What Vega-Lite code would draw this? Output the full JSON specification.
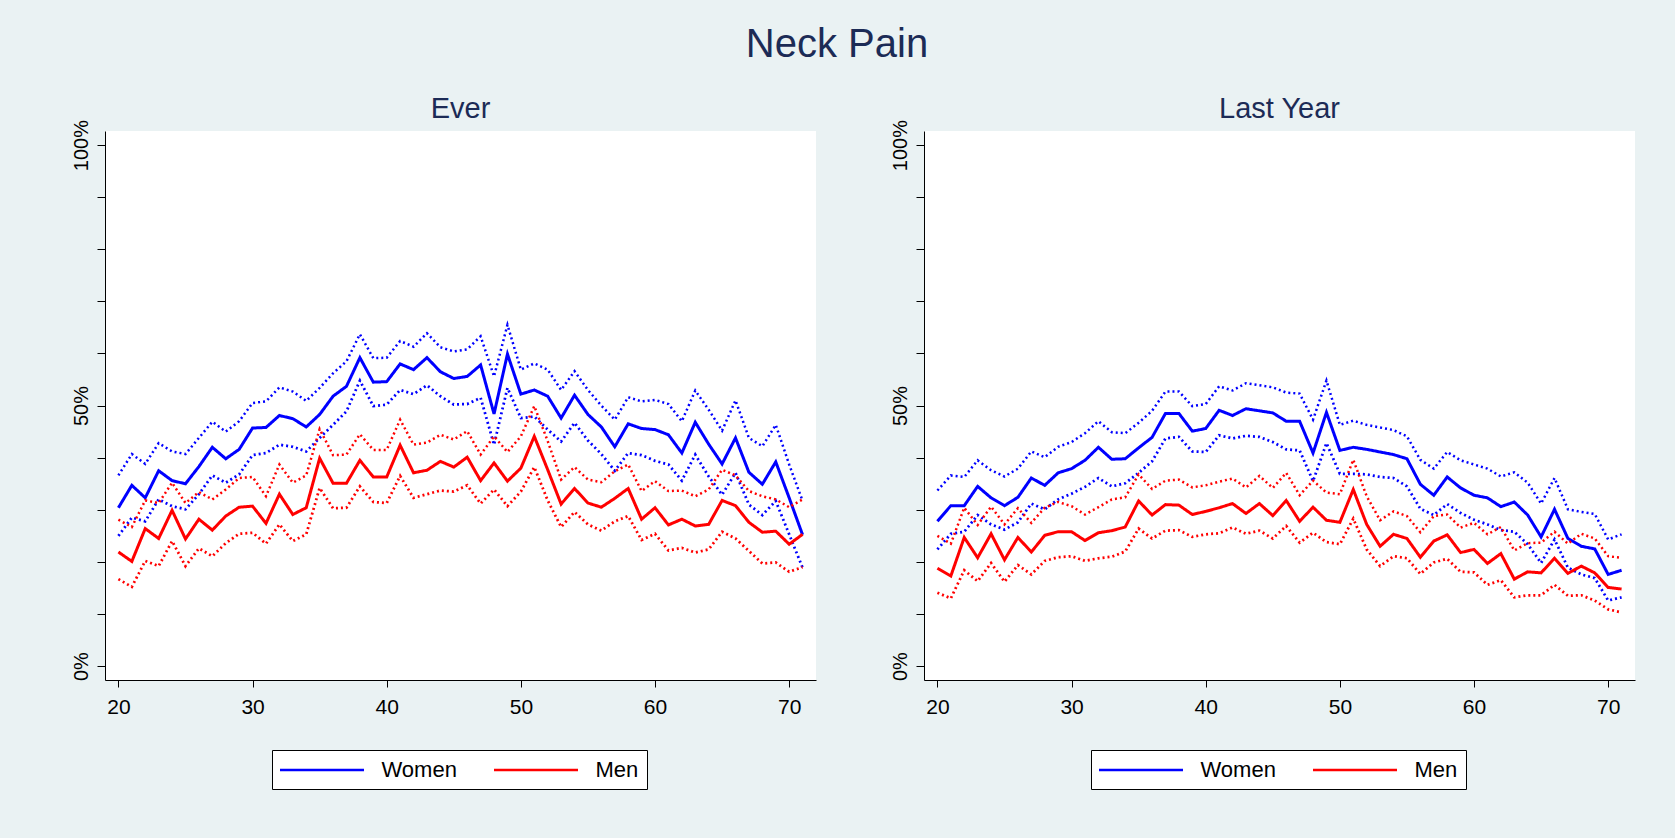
{
  "$schema": "https://vega.github.io/schema/vega-lite/v6.json",
  "background": "#eaf2f3",
  "padding": {"left": 70, "top": 25, "right": 40, "bottom": 49},
  "title": {"text": "Neck Pain", "fontSize": 40, "font": "Liberation Sans", "fontWeight": "normal", "color": "#1c2b56", "anchor": "middle", "offset": 30, "dx": -16},
  "datasets": {
    "ever": [
      {"age":20,"sex":"Women","est":30.4,"lo":25.0,"hi":36.6},
      {"age":21,"sex":"Women","est":34.7,"lo":28.5,"hi":40.7},
      {"age":22,"sex":"Women","est":32.3,"lo":27.8,"hi":38.8},
      {"age":23,"sex":"Women","est":37.5,"lo":32.0,"hi":42.8},
      {"age":24,"sex":"Women","est":35.6,"lo":30.7,"hi":41.2},
      {"age":25,"sex":"Women","est":35.0,"lo":30.1,"hi":40.7},
      {"age":26,"sex":"Women","est":38.3,"lo":33.0,"hi":43.8},
      {"age":27,"sex":"Women","est":42.0,"lo":36.6,"hi":46.9},
      {"age":28,"sex":"Women","est":39.8,"lo":35.2,"hi":45.0},
      {"age":29,"sex":"Women","est":41.6,"lo":36.8,"hi":47.0},
      {"age":30,"sex":"Women","est":45.7,"lo":40.5,"hi":50.5},
      {"age":31,"sex":"Women","est":45.8,"lo":40.9,"hi":50.8},
      {"age":32,"sex":"Women","est":48.1,"lo":42.5,"hi":53.5},
      {"age":33,"sex":"Women","est":47.5,"lo":42.1,"hi":52.7},
      {"age":34,"sex":"Women","est":45.9,"lo":41.2,"hi":50.9},
      {"age":35,"sex":"Women","est":48.3,"lo":43.8,"hi":53.4},
      {"age":36,"sex":"Women","est":51.8,"lo":46.3,"hi":56.2},
      {"age":37,"sex":"Women","est":53.7,"lo":48.9,"hi":58.5},
      {"age":38,"sex":"Women","est":59.2,"lo":54.8,"hi":63.7},
      {"age":39,"sex":"Women","est":54.5,"lo":49.9,"hi":59.1},
      {"age":40,"sex":"Women","est":54.6,"lo":50.2,"hi":59.2},
      {"age":41,"sex":"Women","est":58.0,"lo":53.0,"hi":62.4},
      {"age":42,"sex":"Women","est":56.9,"lo":52.2,"hi":61.3},
      {"age":43,"sex":"Women","est":59.2,"lo":53.9,"hi":63.9},
      {"age":44,"sex":"Women","est":56.5,"lo":51.8,"hi":61.2},
      {"age":45,"sex":"Women","est":55.2,"lo":50.2,"hi":60.4},
      {"age":46,"sex":"Women","est":55.6,"lo":50.3,"hi":60.8},
      {"age":47,"sex":"Women","est":57.8,"lo":51.5,"hi":63.3},
      {"age":48,"sex":"Women","est":48.4,"lo":42.5,"hi":55.6},
      {"age":49,"sex":"Women","est":59.9,"lo":53.4,"hi":65.5},
      {"age":50,"sex":"Women","est":52.2,"lo":47.6,"hi":56.9},
      {"age":51,"sex":"Women","est":53.0,"lo":47.9,"hi":58.1},
      {"age":52,"sex":"Women","est":51.8,"lo":45.4,"hi":56.9},
      {"age":53,"sex":"Women","est":47.6,"lo":43.1,"hi":53.0},
      {"age":54,"sex":"Women","est":52.0,"lo":46.7,"hi":56.6},
      {"age":55,"sex":"Women","est":48.3,"lo":43.3,"hi":53.0},
      {"age":56,"sex":"Women","est":45.9,"lo":40.7,"hi":50.0},
      {"age":57,"sex":"Women","est":42.1,"lo":37.5,"hi":47.3},
      {"age":58,"sex":"Women","est":46.5,"lo":40.9,"hi":51.6},
      {"age":59,"sex":"Women","est":45.6,"lo":40.5,"hi":50.8},
      {"age":60,"sex":"Women","est":45.4,"lo":39.4,"hi":51.1},
      {"age":61,"sex":"Women","est":44.4,"lo":38.7,"hi":50.3},
      {"age":62,"sex":"Women","est":40.9,"lo":35.6,"hi":47.0},
      {"age":63,"sex":"Women","est":46.8,"lo":40.6,"hi":52.9},
      {"age":64,"sex":"Women","est":42.6,"lo":36.4,"hi":49.2},
      {"age":65,"sex":"Women","est":38.8,"lo":32.9,"hi":45.2},
      {"age":66,"sex":"Women","est":43.8,"lo":37.1,"hi":51.0},
      {"age":67,"sex":"Women","est":37.2,"lo":31.0,"hi":43.8},
      {"age":68,"sex":"Women","est":34.9,"lo":29.0,"hi":42.2},
      {"age":69,"sex":"Women","est":39.2,"lo":31.7,"hi":46.3},
      {"age":70,"sex":"Women","est":32.3,"lo":25.3,"hi":38.7},
      {"age":71,"sex":"Women","est":25.2,"lo":18.9,"hi":31.7},
      {"age":20,"sex":"Men","est":21.9,"lo":16.7,"hi":28.1},
      {"age":21,"sex":"Men","est":20.1,"lo":15.2,"hi":26.7},
      {"age":22,"sex":"Men","est":26.4,"lo":20.2,"hi":31.8},
      {"age":23,"sex":"Men","est":24.5,"lo":19.2,"hi":31.3},
      {"age":24,"sex":"Men","est":29.9,"lo":24.0,"hi":35.2},
      {"age":25,"sex":"Men","est":24.4,"lo":19.2,"hi":31.3},
      {"age":26,"sex":"Men","est":28.2,"lo":22.6,"hi":33.4},
      {"age":27,"sex":"Men","est":26.1,"lo":21.1,"hi":32.0},
      {"age":28,"sex":"Men","est":28.8,"lo":23.6,"hi":33.9},
      {"age":29,"sex":"Men","est":30.5,"lo":25.4,"hi":36.1},
      {"age":30,"sex":"Men","est":30.7,"lo":25.6,"hi":36.3},
      {"age":31,"sex":"Men","est":27.4,"lo":23.5,"hi":32.6},
      {"age":32,"sex":"Men","est":33.0,"lo":27.2,"hi":38.7},
      {"age":33,"sex":"Men","est":29.1,"lo":24.0,"hi":35.2},
      {"age":34,"sex":"Men","est":30.4,"lo":25.3,"hi":36.6},
      {"age":35,"sex":"Men","est":39.9,"lo":34.2,"hi":45.5},
      {"age":36,"sex":"Men","est":35.1,"lo":30.3,"hi":40.5},
      {"age":37,"sex":"Men","est":35.1,"lo":30.4,"hi":40.6},
      {"age":38,"sex":"Men","est":39.5,"lo":34.5,"hi":44.5},
      {"age":39,"sex":"Men","est":36.3,"lo":31.5,"hi":41.5},
      {"age":40,"sex":"Men","est":36.3,"lo":31.3,"hi":41.5},
      {"age":41,"sex":"Men","est":42.4,"lo":36.5,"hi":47.3},
      {"age":42,"sex":"Men","est":37.1,"lo":32.3,"hi":42.5},
      {"age":43,"sex":"Men","est":37.6,"lo":33.0,"hi":42.9},
      {"age":44,"sex":"Men","est":39.3,"lo":33.7,"hi":44.4},
      {"age":45,"sex":"Men","est":38.2,"lo":33.5,"hi":43.5},
      {"age":46,"sex":"Men","est":40.1,"lo":34.7,"hi":45.1},
      {"age":47,"sex":"Men","est":35.6,"lo":31.2,"hi":40.6},
      {"age":48,"sex":"Men","est":39.0,"lo":33.9,"hi":44.1},
      {"age":49,"sex":"Men","est":35.5,"lo":30.7,"hi":41.1},
      {"age":50,"sex":"Men","est":38.0,"lo":33.5,"hi":44.1},
      {"age":51,"sex":"Men","est":44.1,"lo":38.2,"hi":49.9},
      {"age":52,"sex":"Men","est":37.7,"lo":31.8,"hi":43.2},
      {"age":53,"sex":"Men","est":31.1,"lo":26.7,"hi":35.8},
      {"age":54,"sex":"Men","est":34.1,"lo":29.6,"hi":38.2},
      {"age":55,"sex":"Men","est":31.3,"lo":27.2,"hi":35.8},
      {"age":56,"sex":"Men","est":30.5,"lo":26.0,"hi":35.3},
      {"age":57,"sex":"Men","est":32.2,"lo":27.8,"hi":37.4},
      {"age":58,"sex":"Men","est":34.1,"lo":28.8,"hi":38.7},
      {"age":59,"sex":"Men","est":28.2,"lo":24.2,"hi":33.6},
      {"age":60,"sex":"Men","est":30.4,"lo":25.4,"hi":35.5},
      {"age":61,"sex":"Men","est":27.1,"lo":22.2,"hi":33.6},
      {"age":62,"sex":"Men","est":28.2,"lo":22.7,"hi":33.7},
      {"age":63,"sex":"Men","est":26.9,"lo":21.8,"hi":32.6},
      {"age":64,"sex":"Men","est":27.2,"lo":22.4,"hi":33.9},
      {"age":65,"sex":"Men","est":31.8,"lo":25.8,"hi":37.7},
      {"age":66,"sex":"Men","est":30.8,"lo":24.5,"hi":36.6},
      {"age":67,"sex":"Men","est":27.6,"lo":22.1,"hi":33.6},
      {"age":68,"sex":"Men","est":25.7,"lo":19.7,"hi":32.6},
      {"age":69,"sex":"Men","est":25.9,"lo":19.9,"hi":32.0},
      {"age":70,"sex":"Men","est":23.4,"lo":18.1,"hi":30.5},
      {"age":71,"sex":"Men","est":25.3,"lo":19.0,"hi":32.0}
    ],
    "lastyear": [
      {"age":20,"sex":"Women","est":27.8,"lo":22.4,"hi":33.7},
      {"age":21,"sex":"Women","est":30.8,"lo":25.4,"hi":36.6},
      {"age":22,"sex":"Women","est":30.8,"lo":25.8,"hi":36.3},
      {"age":23,"sex":"Women","est":34.5,"lo":29.0,"hi":39.5},
      {"age":24,"sex":"Women","est":32.3,"lo":27.2,"hi":37.6},
      {"age":25,"sex":"Women","est":30.8,"lo":26.2,"hi":36.4},
      {"age":26,"sex":"Women","est":32.4,"lo":27.6,"hi":37.9},
      {"age":27,"sex":"Women","est":36.1,"lo":31.2,"hi":41.2},
      {"age":28,"sex":"Women","est":34.7,"lo":30.1,"hi":40.1},
      {"age":29,"sex":"Women","est":37.1,"lo":32.0,"hi":42.1},
      {"age":30,"sex":"Women","est":37.9,"lo":33.1,"hi":43.0},
      {"age":31,"sex":"Women","est":39.5,"lo":34.4,"hi":44.7},
      {"age":32,"sex":"Women","est":42.0,"lo":36.1,"hi":47.0},
      {"age":33,"sex":"Women","est":39.7,"lo":34.5,"hi":44.9},
      {"age":34,"sex":"Women","est":39.8,"lo":35.1,"hi":44.7},
      {"age":35,"sex":"Women","est":41.9,"lo":37.1,"hi":46.7},
      {"age":36,"sex":"Women","est":43.9,"lo":39.3,"hi":49.0},
      {"age":37,"sex":"Women","est":48.5,"lo":43.7,"hi":52.7},
      {"age":38,"sex":"Women","est":48.5,"lo":44.0,"hi":52.7},
      {"age":39,"sex":"Women","est":45.1,"lo":41.2,"hi":49.9},
      {"age":40,"sex":"Women","est":45.6,"lo":41.1,"hi":50.3},
      {"age":41,"sex":"Women","est":49.1,"lo":44.3,"hi":53.7},
      {"age":42,"sex":"Women","est":48.1,"lo":43.7,"hi":52.9},
      {"age":43,"sex":"Women","est":49.4,"lo":44.2,"hi":54.3},
      {"age":44,"sex":"Women","est":49.0,"lo":44.0,"hi":53.9},
      {"age":45,"sex":"Women","est":48.6,"lo":43.0,"hi":53.5},
      {"age":46,"sex":"Women","est":47.0,"lo":41.6,"hi":52.5},
      {"age":47,"sex":"Women","est":47.0,"lo":41.4,"hi":52.3},
      {"age":48,"sex":"Women","est":40.9,"lo":35.5,"hi":47.3},
      {"age":49,"sex":"Women","est":48.7,"lo":42.8,"hi":54.8},
      {"age":50,"sex":"Women","est":41.4,"lo":36.9,"hi":46.3},
      {"age":51,"sex":"Women","est":42.0,"lo":36.9,"hi":47.1},
      {"age":52,"sex":"Women","est":41.6,"lo":36.8,"hi":46.3},
      {"age":53,"sex":"Women","est":41.1,"lo":36.3,"hi":45.8},
      {"age":54,"sex":"Women","est":40.6,"lo":36.1,"hi":45.3},
      {"age":55,"sex":"Women","est":39.8,"lo":34.5,"hi":44.1},
      {"age":56,"sex":"Women","est":34.9,"lo":30.2,"hi":39.6},
      {"age":57,"sex":"Women","est":32.8,"lo":29.0,"hi":37.9},
      {"age":58,"sex":"Women","est":36.3,"lo":31.1,"hi":41.1},
      {"age":59,"sex":"Women","est":34.2,"lo":29.4,"hi":39.5},
      {"age":60,"sex":"Women","est":32.8,"lo":28.1,"hi":38.7},
      {"age":61,"sex":"Women","est":32.3,"lo":27.2,"hi":37.9},
      {"age":62,"sex":"Women","est":30.6,"lo":26.1,"hi":36.4},
      {"age":63,"sex":"Women","est":31.5,"lo":25.8,"hi":37.2},
      {"age":64,"sex":"Women","est":29.0,"lo":23.4,"hi":35.2},
      {"age":65,"sex":"Women","est":24.8,"lo":19.8,"hi":31.2},
      {"age":66,"sex":"Women","est":30.1,"lo":24.3,"hi":36.1},
      {"age":67,"sex":"Women","est":24.5,"lo":18.9,"hi":30.1},
      {"age":68,"sex":"Women","est":23.0,"lo":17.6,"hi":29.6},
      {"age":69,"sex":"Women","est":22.5,"lo":16.9,"hi":29.2},
      {"age":70,"sex":"Women","est":17.6,"lo":12.6,"hi":24.3},
      {"age":71,"sex":"Women","est":18.4,"lo":13.2,"hi":25.3},
      {"age":20,"sex":"Men","est":18.8,"lo":14.1,"hi":25.0},
      {"age":21,"sex":"Men","est":17.3,"lo":13.0,"hi":23.5},
      {"age":22,"sex":"Men","est":24.7,"lo":18.4,"hi":30.4},
      {"age":23,"sex":"Men","est":20.8,"lo":16.3,"hi":27.1},
      {"age":24,"sex":"Men","est":25.4,"lo":19.8,"hi":30.6},
      {"age":25,"sex":"Men","est":20.4,"lo":16.2,"hi":27.2},
      {"age":26,"sex":"Men","est":24.7,"lo":19.4,"hi":30.3},
      {"age":27,"sex":"Men","est":21.9,"lo":17.6,"hi":27.5},
      {"age":28,"sex":"Men","est":25.1,"lo":20.2,"hi":30.4},
      {"age":29,"sex":"Men","est":25.8,"lo":20.9,"hi":31.5},
      {"age":30,"sex":"Men","est":25.8,"lo":21.1,"hi":30.7},
      {"age":31,"sex":"Men","est":24.1,"lo":20.2,"hi":29.1},
      {"age":32,"sex":"Men","est":25.6,"lo":20.7,"hi":30.5},
      {"age":33,"sex":"Men","est":26.0,"lo":21.0,"hi":32.0},
      {"age":34,"sex":"Men","est":26.7,"lo":22.0,"hi":32.4},
      {"age":35,"sex":"Men","est":31.7,"lo":26.4,"hi":36.8},
      {"age":36,"sex":"Men","est":29.0,"lo":24.5,"hi":34.0},
      {"age":37,"sex":"Men","est":31.0,"lo":26.0,"hi":35.6},
      {"age":38,"sex":"Men","est":30.9,"lo":26.1,"hi":35.8},
      {"age":39,"sex":"Men","est":29.1,"lo":24.8,"hi":34.3},
      {"age":40,"sex":"Men","est":29.7,"lo":25.3,"hi":34.7},
      {"age":41,"sex":"Men","est":30.4,"lo":25.5,"hi":35.4},
      {"age":42,"sex":"Men","est":31.2,"lo":26.6,"hi":36.0},
      {"age":43,"sex":"Men","est":29.3,"lo":25.4,"hi":34.3},
      {"age":44,"sex":"Men","est":31.2,"lo":26.0,"hi":36.5},
      {"age":45,"sex":"Men","est":28.9,"lo":24.5,"hi":34.2},
      {"age":46,"sex":"Men","est":31.8,"lo":26.9,"hi":37.1},
      {"age":47,"sex":"Men","est":27.8,"lo":23.7,"hi":32.8},
      {"age":48,"sex":"Men","est":30.5,"lo":25.6,"hi":35.6},
      {"age":49,"sex":"Men","est":28.0,"lo":23.8,"hi":33.3},
      {"age":50,"sex":"Men","est":27.6,"lo":23.4,"hi":33.0},
      {"age":51,"sex":"Men","est":33.9,"lo":28.3,"hi":39.6},
      {"age":52,"sex":"Men","est":27.2,"lo":22.4,"hi":32.6},
      {"age":53,"sex":"Men","est":23.0,"lo":19.2,"hi":28.0},
      {"age":54,"sex":"Men","est":25.3,"lo":21.1,"hi":29.7},
      {"age":55,"sex":"Men","est":24.5,"lo":20.7,"hi":28.8},
      {"age":56,"sex":"Men","est":20.9,"lo":17.7,"hi":25.7},
      {"age":57,"sex":"Men","est":24.0,"lo":19.9,"hi":28.8},
      {"age":58,"sex":"Men","est":25.2,"lo":20.6,"hi":29.1},
      {"age":59,"sex":"Men","est":21.8,"lo":18.1,"hi":26.6},
      {"age":60,"sex":"Men","est":22.4,"lo":18.0,"hi":27.5},
      {"age":61,"sex":"Men","est":19.7,"lo":15.6,"hi":25.3},
      {"age":62,"sex":"Men","est":21.6,"lo":16.5,"hi":26.7},
      {"age":63,"sex":"Men","est":16.7,"lo":13.2,"hi":22.2},
      {"age":64,"sex":"Men","est":18.1,"lo":13.6,"hi":23.6},
      {"age":65,"sex":"Men","est":17.9,"lo":13.6,"hi":23.7},
      {"age":66,"sex":"Men","est":20.7,"lo":15.6,"hi":25.8},
      {"age":67,"sex":"Men","est":17.8,"lo":13.5,"hi":23.5},
      {"age":68,"sex":"Men","est":19.2,"lo":13.6,"hi":25.4},
      {"age":69,"sex":"Men","est":17.9,"lo":12.6,"hi":24.5},
      {"age":70,"sex":"Men","est":15.1,"lo":10.9,"hi":21.1},
      {"age":71,"sex":"Men","est":14.8,"lo":10.3,"hi":20.8}
    ]
  },
  "spacing": 73,
  "resolve": {"legend": {"color": "independent"}},
  "hconcat": [
    {
      "width": 711,
      "height": 549,
      "title": {"text": "Ever"},
      "data": {"name": "ever"},
      "transform": [{"fold": ["est", "lo", "hi"], "as": ["kind", "value"]}],
      "mark": {"type": "line", "strokeCap": "butt", "strokeJoin": "miter"},
      "encoding": {
        "x": {"field": "age", "type": "quantitative", "scale": {"domain": [19, 72], "nice": false, "zero": false},
          "axis": {"values": [20, 30, 40, 50, 60, 70]}},
        "y": {"field": "value", "type": "quantitative", "scale": {"domain": [-2.66, 102.7], "nice": false, "zero": false},
          "axis": {"values": [0, 10, 20, 30, 40, 50, 60, 70, 80, 90, 100]}},
        "color": {"field": "sex", "type": "nominal", "scale": {"domain": ["Women", "Men"], "range": ["#0000ff", "#ff0000"]},
          "legend": {"orient": "none", "legendX": 167, "legendY": 619}},
        "detail": {"field": "kind"},
        "strokeDash": {"field": "kind", "type": "nominal", "scale": {"domain": ["est", "lo", "hi"], "range": [[1, 0], [2, 3], [2, 3]]}, "legend": null},
        "strokeWidth": {"field": "kind", "type": "nominal", "scale": {"domain": ["est", "lo", "hi"], "range": [3, 2.5, 2.5]}, "legend": null}
      }
    },
    {
      "width": 711,
      "height": 549,
      "title": {"text": "Last Year"},
      "data": {"name": "lastyear"},
      "transform": [{"fold": ["est", "lo", "hi"], "as": ["kind", "value"]}],
      "mark": {"type": "line", "strokeCap": "butt", "strokeJoin": "miter"},
      "encoding": {
        "x": {"field": "age", "type": "quantitative", "scale": {"domain": [19, 72], "nice": false, "zero": false},
          "axis": {"values": [20, 30, 40, 50, 60, 70]}},
        "y": {"field": "value", "type": "quantitative", "scale": {"domain": [-2.66, 102.7], "nice": false, "zero": false},
          "axis": {"values": [0, 10, 20, 30, 40, 50, 60, 70, 80, 90, 100]}},
        "color": {"field": "sex", "type": "nominal", "scale": {"domain": ["Women", "Men"], "range": ["#0000ff", "#ff0000"]},
          "legend": {"orient": "none", "legendX": 167, "legendY": 619}},
        "detail": {"field": "kind"},
        "strokeDash": {"field": "kind", "type": "nominal", "scale": {"domain": ["est", "lo", "hi"], "range": [[1, 0], [2, 3], [2, 3]]}, "legend": null},
        "strokeWidth": {"field": "kind", "type": "nominal", "scale": {"domain": ["est", "lo", "hi"], "range": [3, 2.5, 2.5]}, "legend": null}
      }
    }
  ],
  "config": {
    "font": "Liberation Sans",
    "view": {"stroke": null, "fill": "white"},
    "title": {"font": "Liberation Sans", "fontSize": 29, "fontWeight": "normal", "color": "#1c2b56", "offset": -5},
    "axisX": {
      "title": null, "grid": false, "tickSize": 7, "tickColor": "black",
      "domainColor": "black", "labelColor": "black", "labelFontSize": 21, "labelPadding": 9, "labelFlush": false,
      "labelFont": "Liberation Sans"
    },
    "axisY": {
      "title": null,
      "labelExpr": "datum.value % 50 === 0 ? datum.value + '%' : ''",
      "grid": true, "gridColor": "#e3ecee", "gridWidth": 1.5,
      "gridOpacity": {"condition": {"test": "datum.value === 50", "value": 1}, "value": 0},
      "tickSize": 8, "tickColor": "black", "domainColor": "black", "labelColor": "black",
      "labelAngle": 270, "labelAlign": "center", "labelBaseline": "bottom", "labelFontSize": 20,
      "labelPadding": 6, "labelFlush": false, "labelOverlap": false, "labelFont": "Liberation Sans"
    },
    "legend": {
      "direction": "horizontal", "title": null, "symbolType": "M-4,0H4", "symbolSize": 441,
      "symbolOffset": 30, "symbolStrokeWidth": 2.5, "labelFontSize": 22, "labelFont": "Liberation Sans", "labelColor": "black",
      "labelOffset": 47.5, "columnPadding": 32, "padding": 8, "strokeColor": "black", "fillColor": "white",
      "cornerRadius": 0
    }
  }
}
